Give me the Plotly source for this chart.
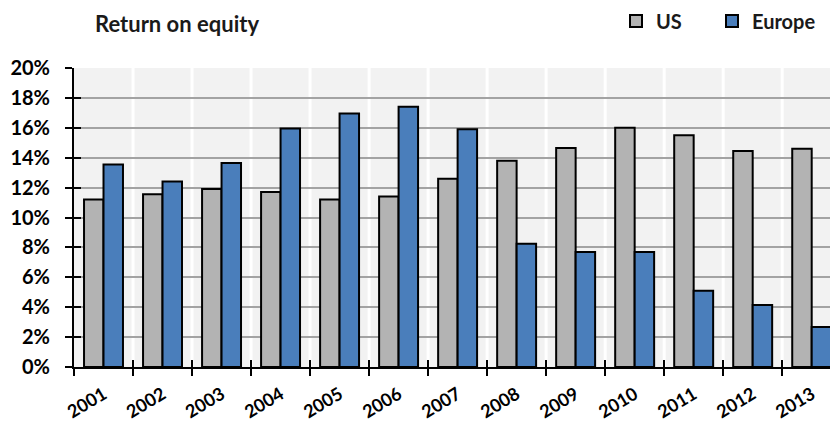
import plotly.graph_objects as go

# Return on equity, US vs Europe (share)
years = ["2001", "2002", "2003", "2004", "2005", "2006", "2007",
         "2008", "2009", "2010", "2011", "2012", "2013"]
us = [0.112, 0.1155, 0.119, 0.117, 0.112, 0.114, 0.126,
      0.138, 0.1465, 0.160, 0.155, 0.1445, 0.146]
europe = [0.1355, 0.124, 0.1365, 0.1595, 0.1695, 0.174, 0.159,
          0.0825, 0.077, 0.077, 0.051, 0.0415, 0.0268]
y_ticks = [0, 0.02, 0.04, 0.06, 0.08, 0.10, 0.12, 0.14, 0.16, 0.18, 0.20]

FONT = "Lato"
GRID = "#a3a3a3"

fig = go.Figure()
fig.add_trace(go.Bar(
    x=years, y=us, name="US", legend="legend",
    marker=dict(color="#b3b3b3", line=dict(color="#000000", width=2)),
))
fig.add_trace(go.Bar(
    x=years, y=europe, name="Europe", legend="legend2",
    marker=dict(color="#4a7ebb", line=dict(color="#000000", width=2)),
))

# white vertical separators at category boundaries, over the grey grid
for i in range(len(years)):
    fig.add_shape(
        type="line", xref="x", yref="paper",
        x0=i + 0.5, x1=i + 0.5, y0=0, y1=1,
        line=dict(color="#ffffff", width=3), layer="between",
    )

# one legend box per series so each can sit where the original puts it
legend_style = dict(
    orientation="h",
    xref="container", yref="container",
    xanchor="left", y=1 - 21 / 421, yanchor="middle",
    font=dict(family=FONT, size=20, color="#1a1a1a", weight="bold"),
    bgcolor="rgba(0,0,0,0)",
    itemclick=False,
)

fig.update_layout(
    width=830, height=421,
    margin=dict(l=74, r=0, t=68, b=54, autoexpand=False),
    paper_bgcolor="#ffffff",
    plot_bgcolor="#f2f2f2",
    barmode="group",
    bargap=0.34,
    bargroupgap=0,
    font=dict(family=FONT, color="#000000"),
    title=dict(
        text="<b>Return on equity</b>",
        font=dict(family=FONT, size=22, color="#1a1a1a"),
        xref="container", yref="container",
        x=95 / 830, xanchor="left", y=1 - 24 / 421, yanchor="middle",
    ),
    legend=dict(legend_style, x=616 / 830),
    legend2=dict(legend_style, x=712 / 830),
    xaxis=dict(
        type="category",
        range=[-0.5, 12.31],
        tickson="boundaries",
        ticks="outside", ticklen=7, tickwidth=2, tickcolor="#000000",
        tickangle=-31,
        ticklabelstandoff=8,
        tickfont=dict(family=FONT, size=18, weight="bold"),
        showline=True, linecolor="#000000", linewidth=2,
        showgrid=False, automargin=False,
    ),
    xaxis2=dict(
        type="category", overlaying="x", matches="x",
        tickson="boundaries",
        ticks="inside", ticklen=7, tickwidth=2, tickcolor="#000000",
        showticklabels=False, showgrid=False, showline=False,
        automargin=False,
    ),
    yaxis=dict(
        range=[0, 0.20],
        tickvals=y_ticks,
        tickformat=".0%",
        ticks="outside", ticklen=7, tickwidth=2, tickcolor="#000000",
        ticklabelstandoff=11,
        tickfont=dict(family=FONT, size=20, weight="bold"),
        showline=True, linecolor="#000000", linewidth=2,
        showgrid=True, gridcolor=GRID, gridwidth=2,
        zeroline=False, automargin=False,
    ),
    yaxis2=dict(
        range=[0, 0.20], overlaying="y", matches="y",
        tickvals=y_ticks,
        ticks="inside", ticklen=7, tickwidth=2, tickcolor="#000000",
        showticklabels=False, showgrid=False, showline=False,
        zeroline=False, automargin=False,
    ),
    showlegend=True,
)

# invisible helper trace so the overlay axes (crossing tick halves) render
fig.add_trace(go.Bar(
    x=years, y=[None] * len(years), xaxis="x2", yaxis="y2",
    showlegend=False, hoverinfo="skip",
))

# the page body has a default 8px margin; drop it so the chart fills the window
fig.write_html(
    "out.html",
    config={"displayModeBar": False},
    post_script="document.body.style.margin = '0';",
)
